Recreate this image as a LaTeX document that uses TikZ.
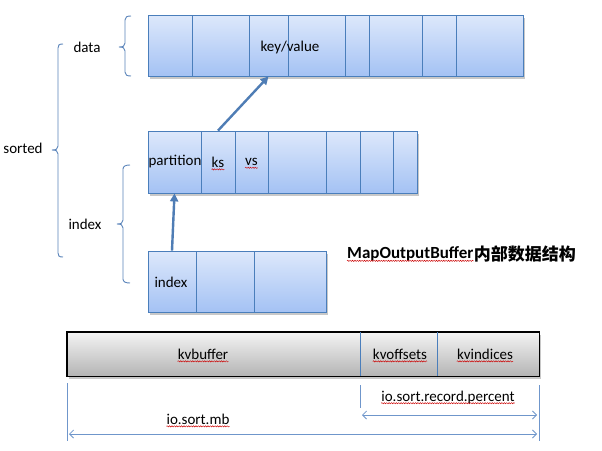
\documentclass[tikz,border=0pt]{standalone}
\usepackage{fontspec}
\setmainfont{Carlito}
\newfontfamily\cjk{Noto Sans CJK SC}
\usetikzlibrary{decorations.pathmorphing,arrows.meta}
\definecolor{cellborder}{HTML}{4A7EBB}
\definecolor{celltop}{HTML}{DDE8FB}
\definecolor{cellbot}{HTML}{A4C2F4}
\definecolor{bartop}{HTML}{F4F4F4}
\definecolor{barbot}{HTML}{B4B4B4}
\definecolor{dimcol}{HTML}{6F96CB}
\definecolor{bracecol}{HTML}{5A84BA}
\definecolor{arrcol}{HTML}{4F7DB5}
\definecolor{shadowcol}{HTML}{C8C8C8}
\tikzset{
  cell/.style={draw=cellborder, line width=0.8pt, top color=celltop, bottom color=cellbot, inner sep=0pt},
  barcell/.style={inner sep=0pt},
  lbl/.style={inner sep=0pt, font=\fontsize{15}{18}\selectfont, text=black},
  titlelbl/.style={inner sep=0pt, font=\fontsize{17}{20}\selectfont\bfseries, text=black},
  squig/.style={draw=red!80!black, line width=0.45pt, decorate, decoration={snake, amplitude=0.6pt, segment length=2.4pt}},
  conn/.style={draw=arrcol, line width=2.4pt, -{Triangle[length=8pt,width=8pt]}},
  dimline/.style={draw=dimcol, line width=0.8pt, {Straight Barb[length=4pt,width=8pt]}-{Straight Barb[length=4pt,width=8pt]}},
  tick/.style={draw=dimcol, line width=0.8pt},
  bracestyle/.style={draw=bracecol, line width=0.9pt},
  shadowbox/.style={fill=shadowcol}
}
\begin{document}
\begin{tikzpicture}[x=1pt,y=1pt]
\useasboundingbox[fill=white] (0,0) rectangle (602,-450);
% shadows
\fill[shadowbox] (150,-18) rectangle (525,-78.5);
\fill[shadowbox] (150,-134) rectangle (419,-195.5);
\fill[shadowbox] (150,-254) rectangle (328,-314.5);
\fill[shadowbox] (69,-335) rectangle (541,-378.5);
% data row
\foreach \n/\a/\b in {d1/148/192, d2/192/249, d3/249/288, d4/288/345, d5/345/369, d6/369/422, d7/422/456, d8/456/523}
  \node[cell, minimum height=61pt, minimum width={(\b-\a)*1pt}] (\n) at ({(\a+\b)/2},-45.5) {};
% partition row
\foreach \n/\a/\b in {p1/148/201, p2/201/235, p3/235/268, p4/268/326, p5/326/360, p6/360/393, p7/393/417}
  \node[cell, minimum height=62pt, minimum width={(\b-\a)*1pt}] (\n) at ({(\a+\b)/2},-162) {};
% index row
\foreach \n/\a/\b in {i1/148/196, i2/196/254, i3/254/326}
  \node[cell, minimum height=61pt, minimum width={(\b-\a)*1pt}] (\n) at ({(\a+\b)/2},-281.5) {};
% bottom bar
\node[draw=black, line width=0.9pt, top color=bartop, bottom color=barbot, minimum width=472pt, minimum height=44pt, inner sep=0pt] (bar) at (303,-354) {};
\node[barcell, minimum width=293pt, minimum height=44pt] (b1) at (213.5,-354) {};
\node[barcell, minimum width=77pt, minimum height=44pt] (b2) at (398.5,-354) {};
\node[barcell, minimum width=102pt, minimum height=44pt] (b3) at (488,-354) {};
\draw[draw=cellborder, line width=0.6pt] (b1.north east) -- (b1.south east);
\draw[draw=cellborder, line width=0.6pt] (b2.north east) -- (b2.south east);
\draw[draw=black, line width=0.9pt] (bar.north west) rectangle (bar.south east);
% labels
\node[lbl] (kv) at (290,-47) {key/value};
\node[lbl] (part) at (175,-162) {partition};
\node[lbl] (ks) at (218,-162) {ks};
\node[lbl] (vs) at (251.5,-162) {vs};
\node[lbl] (idx) at (171,-282) {index};
\node[lbl] (kvb) at (203,-354) {kvbuffer};
\node[lbl] (kvo) at (400,-354) {kvoffsets};
\node[lbl] (kvi) at (485,-354) {kvindices};
\node[lbl] (data) at (87,-47) {data};
\node[lbl] (sorted) at (23,-148) {sorted};
\node[lbl] (index) at (85,-224) {index};
\node[lbl] (rec) at (448,-397) {io.sort.record.percent};
\node[lbl] (mb) at (198,-419) {io.sort.mb};
\node[titlelbl, anchor=west] (t1) at (347,-254) {MapOutputBuffer};
\node[titlelbl, anchor=west] (t2) at (t1.east) {\cjk\bfseries 内部数据结构};
% spell squiggles
\foreach \t in {ks, vs, kvb, kvo, kvi, rec, mb, t1}
  \draw[squig] ([yshift=-2.2pt]\t.base west) -- ([yshift=-2.2pt]\t.base east);
% connectors
\draw[conn] (i1.north) -- (p1.south);
\draw[conn] (p2.north) -- (d3.south);
% braces
\draw[bracestyle] (131,-16) .. controls (127,-16) and (125,-17) .. (125,-20) -- (125,-43)
  .. controls (125,-46) and (123,-47) .. (119,-47) .. controls (123,-47) and (125,-48) .. (125,-51)
  -- (125,-72) .. controls (125,-75) and (127,-76) .. (131,-76);
\draw[bracestyle] (63,-44) .. controls (59,-44) and (58,-45) .. (58,-48) -- (58,-146)
  .. controls (58,-149) and (56,-150) .. (52,-150) .. controls (56,-150) and (58,-151) .. (58,-154)
  -- (58,-253) .. controls (58,-256) and (59,-257) .. (63,-257);
\draw[bracestyle] (130,-165) .. controls (126,-165) and (123,-166) .. (123,-169) -- (123,-220)
  .. controls (123,-223) and (121,-224) .. (117,-224) .. controls (121,-224) and (123,-225) .. (123,-228)
  -- (123,-279) .. controls (123,-282) and (126,-283) .. (130,-283);
% dimension lines
\coordinate (tl1) at (67,-383);
\coordinate (tl2) at (67,-441);
\coordinate (tr1) at (539,-385);
\coordinate (tr2) at (539,-441);
\coordinate (tm1) at (360,-385);
\coordinate (tm2) at (360,-408);
\draw[tick] (tl1) -- (tl2);
\draw[tick] (tr1) -- (tr2);
\draw[tick] (tm1) -- (tm2);
\coordinate (ra) at (362,-415);
\coordinate (rb) at (537,-415);
\coordinate (ma) at (69,-434);
\coordinate (mbx) at (537,-434);
\draw[dimline] (ra) -- (rb);
\draw[dimline] (ma) -- (mbx);
\end{tikzpicture}
\end{document}
